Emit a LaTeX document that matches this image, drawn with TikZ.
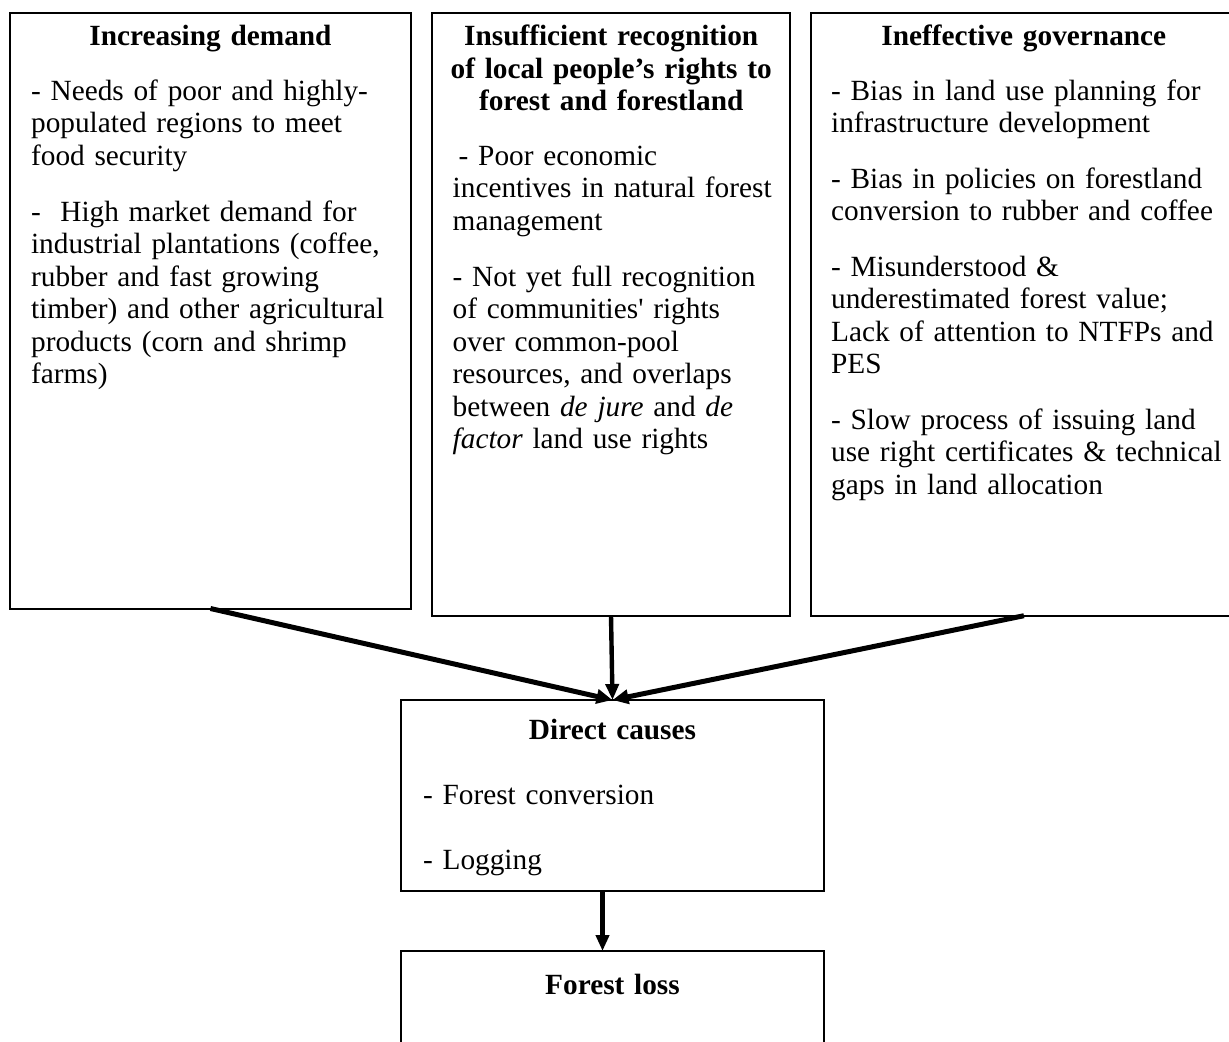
\documentclass[tikz,border=0pt]{standalone}
\usepackage{fontspec}
\setmainfont{Liberation Serif}
\usetikzlibrary{arrows.meta}
\newcommand{\fsz}{\fontsize{14.65pt}{16.25pt}\selectfont}
\tikzset{
  x=0.5pt, y=-0.5pt,
  box/.style={draw, line width=1pt, inner sep=0pt, outer sep=0pt, anchor=north west},
  bodytxt/.style={inner sep=0pt, anchor=base west, align=left, font=\fsz},
  ttl/.style={inner sep=0pt, anchor=base, align=center, font=\fsz\bfseries},
  arr/.style={-{Triangle[length=8pt,width=7pt]}, line width=2.5pt},
  varr/.style={-{Triangle[length=8pt,width=6.5pt]}, line width=2.2pt}
}
\begin{document}
\begin{tikzpicture}
\useasboundingbox (0,0) rectangle (1229,1041);
% boxes
\node[box, minimum width=200.5pt, minimum height=298pt] (b1) at (10,12.5) {};
\node[box, minimum width=179pt, minimum height=301.6pt] (b2) at (432,12.5) {};
\node[box, minimum width=213.2pt, minimum height=301.6pt] (b3) at (810.7,12.5) {};
\node[box, minimum width=211.5pt, minimum height=95.3pt] (b4) at (401,700) {};
\node[box, minimum width=211.5pt, minimum height=70pt] (b5) at (401,951) {};
% titles
\node[ttl, text width=190pt] (t1) at (210.5,45.5) {Increasing demand};
\node[ttl, text width=175pt] (t2) at (611.2,45.5) {Insufficient recognition\\of local people’s rights to\\forest and forestland};
\node[ttl, text width=205pt] (t3) at (1023.8,45.5) {Ineffective governance};
\node[ttl, text width=200pt] (t4) at (612.5,739.5) {Direct causes};
\node[ttl, text width=200pt] (t5) at (612.5,994) {Forest loss};
% bodies
\node[bodytxt, text width=188pt] (x1) at (30.7,100) {- Needs of poor and highly-\\populated regions to meet\\food security\\[11.9pt]
-\ \ High market demand for\\industrial plantations (coffee,\\rubber and fast growing\\timber) and other agricultural\\products (corn and shrimp\\farms)};
\node[bodytxt, text width=165pt] (x2) at (452.3,165) {\hspace*{3pt}- Poor economic\\incentives in natural forest\\management\\[11.9pt]
- Not yet full recognition\\of communities\textquotesingle\ rights\\over common-pool\\resources, and overlaps\\between \textit{de jure} and \textit{de}\\\textit{factor} land use rights};
\node[bodytxt, text width=198pt] (x3) at (830.7,100) {- Bias in land use planning for\\infrastructure development\\[11.5pt]
- Bias in policies on forestland\\conversion to rubber and coffee\\[11.5pt]
- Misunderstood \&\\underestimated forest value;\\Lack of attention to NTFPs and\\PES\\[11.5pt]
- Slow process of issuing land\\use right certificates \& technical\\gaps in land allocation};
\node[bodytxt, text width=195pt] (x4) at (422.7,804.5) {- Forest conversion\\[16.3pt]- Logging};
% connectors
\draw[arr] (b1.south) -- (b4.north);
\draw[varr] (b2.south) -- (b4.north);
\draw[arr] (b3.south) -- (b4.north);
\draw[varr] ([xshift=-5pt]b4.south) -- ([xshift=-5pt]b5.north);
\end{tikzpicture}
\end{document}
